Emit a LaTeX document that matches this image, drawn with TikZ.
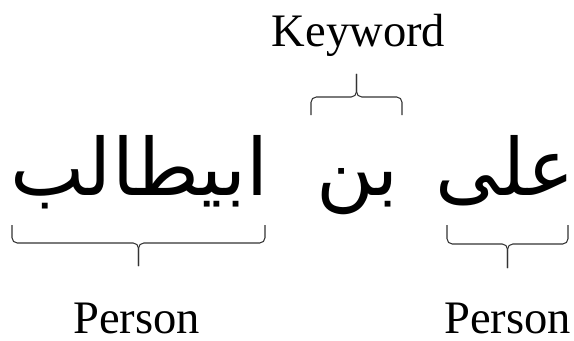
\documentclass[tikz,border=0pt]{standalone}
\usepackage{fontspec}
\setmainfont{Liberation Serif}
\newfontfamily\arabicfont[Script=Arabic]{DejaVu Sans}
\TeXXeTstate=1
\def\wordbrace[#1](#2:#3)(#4:#5:#6){\draw[#1] (#2,#4) -- (#2,#5) -- ({(#2+#3)/2},#5) -- ({(#2+#3)/2},#6); \draw[#1] (#3,#4) -- (#3,#5) -- ({(#2+#3)/2},#5) -- ({(#2+#3)/2},#6);}

\begin{document}
\begin{tikzpicture}[x=0.02cm, y=-0.02cm,
		tag/.style={font=\fontsize{26.5}{30}\selectfont, inner sep=0pt, text depth=0pt, anchor=base},
		arabic/.style={font=\arabicfont\fontsize{45}{50}\selectfont, inner sep=0pt, anchor=base},
		brace line/.style={line width=0.6pt, color=black!80, rounded corners=3}]
		%%%%% START %%%%%
		
		\useasboundingbox (0,0) rectangle (574,341);
		
		\node[tag] (keyword) at (358.5, 47) {Keyword};
		\wordbrace[brace line](311:402)(115:97:74)
		
		\node[arabic] (abitalib) at (139.5, 195) {\beginR ابيطالب\endR};
		\node[arabic] (bin) at (357.5, 195) {\beginR بن\endR};
		\node[arabic] (ali) at (505, 195) {\beginR على\endR};
		
		\wordbrace[brace line](12:265)(225:243:266)
		\wordbrace[brace line](447:568)(225:244:268)
		
		\node[tag] (person1) at (136.5, 333) {Person};
		\node[tag] (person2) at (507.5, 333) {Person};
		
		%%%%% END %%%%%
	\end{tikzpicture}
\end{document}
